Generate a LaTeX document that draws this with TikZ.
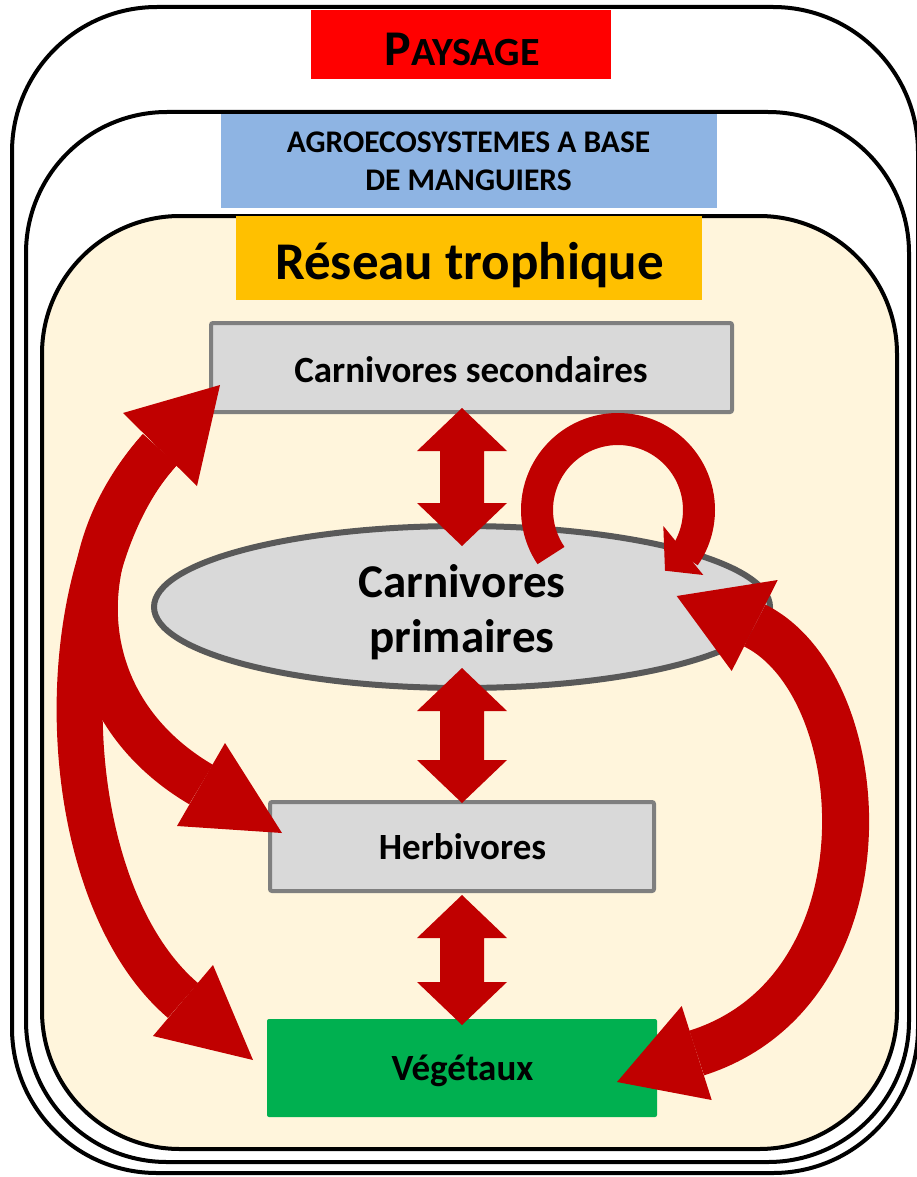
\documentclass[tikz,border=0pt]{standalone}
\usepackage{fontspec}
\setmainfont{Carlito}
\usetikzlibrary{calc,shapes.geometric}
\definecolor{arrowred}{HTML}{C00000}
\definecolor{cream}{HTML}{FFF5DC}
\definecolor{boxgray}{HTML}{D9D9D9}
\definecolor{boxborder}{HTML}{7F7F7F}
\definecolor{ellborder}{HTML}{595959}
\definecolor{titleblue}{HTML}{8EB4E3}
\definecolor{titleorange}{HTML}{FFC000}
\definecolor{titlered}{HTML}{FF0000}
\definecolor{vegreen}{HTML}{00B050}
\newcommand\vdarrow[2]{%
  \fill[arrowred] (#1) -- ++(45,43) -- ++(-23,0) -- ($(#2)+(22,-43)$) -- ++(23,0) -- (#2)
    -- ++(-45,-43) -- ++(23,0) -- ($(#1)+(-22,43)$) -- ++(-23,0) -- cycle;}
\begin{document}
\begin{tikzpicture}[x=1pt,y=-1pt,
  frame/.style={draw=black,line width=4pt},
  titlebox/.style={inner sep=0pt,outer sep=0pt},
  levelbox/.style={draw=boxborder,line width=4pt,fill=boxgray,rounded corners=2pt,inner sep=0pt},
  txt/.style={anchor=base,inner sep=0pt,outer sep=0pt},
  band/.style={draw=arrowred,line width=46pt,line cap=butt},
  headfill/.style={fill=arrowred},
]
\useasboundingbox (0,0) rectangle (917,1177);
\fill[white] (0,0) rectangle (917,1177);

% nested frames
\draw[frame, rounded corners=145pt] (12,7) rectangle (918,1173);
\draw[frame, rounded corners=141pt] (26,112) rectangle (909,1162);
\draw[frame, fill=cream, rounded corners=138pt] (42,216) rectangle (897,1149);

% title boxes
\node[titlebox, fill=titlered, minimum width=300pt, minimum height=69pt] (paysage) at (461,44.5) {};
\node[titlebox, fill=titleblue, minimum width=496pt, minimum height=94pt] (agro) at (469,161) {};
\node[titlebox, fill=titleorange, minimum width=466pt, minimum height=84pt] (reseau) at (469,258) {};

\node[txt] (tpaysage) at (462,66) {\bfseries{\fontsize{50}{60}\selectfont P}{\fontsize{40}{48}\selectfont AYSAGE}};
\node[txt, font=\bfseries\fontsize{31.5}{37}\selectfont] (tagro1) at (468.5,153) {AGROECOSYSTEMES A BASE};
\node[txt, font=\bfseries\fontsize{31.5}{37}\selectfont] (tagro2) at (468.5,190) {DE MANGUIERS};
\node[txt, font=\bfseries\fontsize{53}{62}\selectfont] (treseau) at (469.5,279) {Réseau trophique};

% trophic levels
\node[levelbox, minimum width=521pt, minimum height=89pt] (cs) at (471.5,367.5) {};
\node[ellipse, draw=ellborder, line width=6pt, fill=boxgray, minimum width=616pt, minimum height=162pt, inner sep=0pt] (cp) at (462,607) {};
\node[levelbox, minimum width=384pt, minimum height=89pt] (herb) at (462,846.5) {};
\node[titlebox, fill=vegreen, rounded corners=2pt, minimum width=390pt, minimum height=98pt] (veg) at (462,1068) {};

\node[txt, font=\bfseries\fontsize{37}{44}\selectfont] (tcs) at (471,382) {Carnivores secondaires};
\node[txt, font=\bfseries\fontsize{47}{56}\selectfont] (tcp1) at (462,597) {Carnivores};
\node[txt, font=\bfseries\fontsize{47}{56}\selectfont] (tcp2) at (462,652) {primaires};
\node[txt, font=\bfseries\fontsize{37}{44}\selectfont] (therb) at (462.5,859) {Herbivores};
\node[txt, font=\bfseries\fontsize{37}{44}\selectfont] (tveg) at (462.5,1080) {Végétaux};

% straight double arrows
\coordinate (a1t) at (462,408);
\coordinate (a1b) at (462,546);
\coordinate (a2t) at (462,668);
\coordinate (a2b) at (462,803);
\coordinate (a3t) at (462,895);
\coordinate (a3b) at (462,1025);
\vdarrow{a1t}{a1b}
\vdarrow{a2t}{a2b}
\vdarrow{a3t}{a3b}

% curved double arrows: head base midpoints
\coordinate (h1m) at (160,449.5);
\coordinate (h2m) at (201,784.5);
\coordinate (h3m) at (183,1000.5);
\coordinate (h4m) at (754.7,625.5);
\coordinate (h5m) at (696.7,1053);

\draw[band] (h1m) .. controls (64,556) and (71,708) .. (h2m);
\draw[band] (h1m) .. controls (45,575) and (54,890.5) .. (h3m);
\draw[band, line width=47pt] (h4m) .. controls (875,685) and (895,990) .. (h5m);

\coordinate (h1t) at (220,385);
\coordinate (h1a) at (123,413);
\coordinate (h1b) at (197,486);
\coordinate (h2t) at (282,833);
\coordinate (h2a) at (225,743);
\coordinate (h2b) at (177,826);
\coordinate (h3t) at (253,1060);
\coordinate (h3a) at (153,1036);
\coordinate (h3b) at (213,965);
\coordinate (h4t) at (676.7,596);
\coordinate (h4a) at (777.7,580);
\coordinate (h4b) at (731.7,671);
\coordinate (h5t) at (617,1082);
\coordinate (h5a) at (681.7,1006);
\coordinate (h5b) at (711.7,1100);
\fill[headfill] (h1t) -- (h1a) -- (h1b) -- cycle;
\fill[headfill] (h2t) -- (h2a) -- (h2b) -- cycle;
\fill[headfill] (h3t) -- (h3a) -- (h3b) -- cycle;
\fill[headfill] (h4t) -- (h4a) -- (h4b) -- cycle;
\fill[headfill] (h5t) -- (h5a) -- (h5b) -- cycle;

% self loop on primary carnivores
\coordinate (lc) at (618,510);
\draw[draw=arrowred, line width=32pt, line cap=butt, line join=round]
  plot[domain=145.8:395, samples=80] ({618+81*cos(\x)},{510+81*sin(\x)});
\coordinate (lt) at (665,570.7);
\coordinate (la) at (663.3,526);
\coordinate (lb) at (703.3,575);
\fill[headfill] (lt) -- (la) -- (lb) -- cycle;
\end{tikzpicture}
\end{document}
